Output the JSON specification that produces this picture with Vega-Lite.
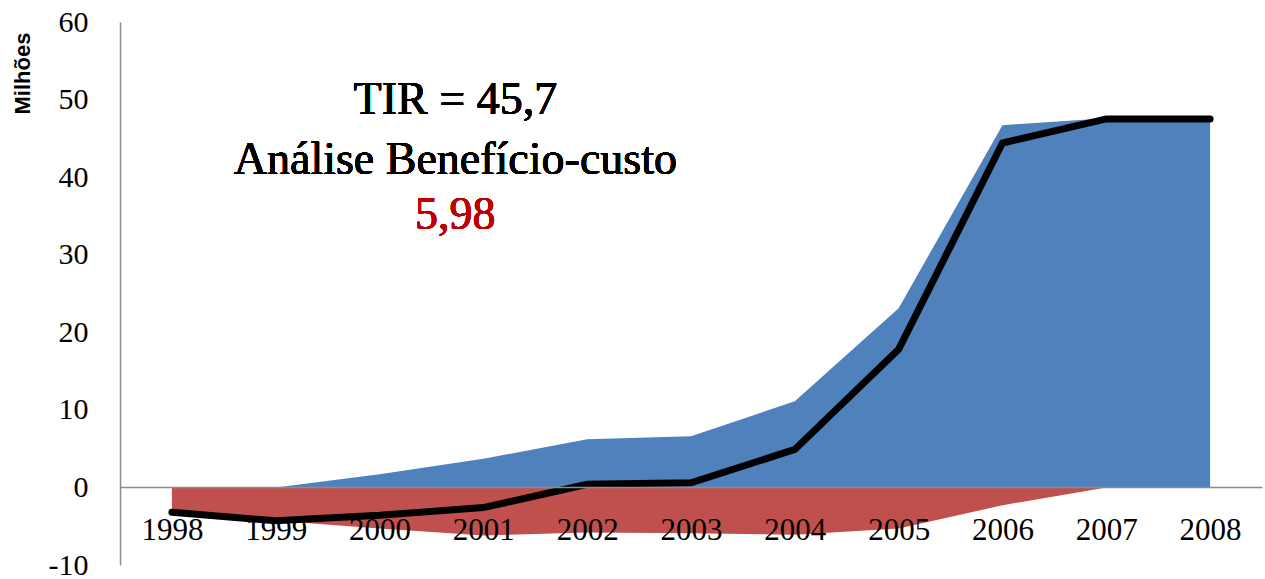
{
  "$schema": "https://vega.github.io/schema/vega-lite/v6.json",
  "autosize": "none",
  "width": 1142,
  "height": 543,
  "padding": {"left": 120, "top": 22, "right": 3, "bottom": 14},
  "background": "white",
  "config": {"view": {"stroke": null}},
  "data": {
    "values": [
      {"year": "1998", "benefit": 0, "cost": -3.2, "net": -3.2},
      {"year": "1999", "benefit": 0, "cost": -4.3, "net": -4.3},
      {"year": "2000", "benefit": 1.7, "cost": -5.3, "net": -3.6},
      {"year": "2001", "benefit": 3.7, "cost": -6.2, "net": -2.6},
      {"year": "2002", "benefit": 6.2, "cost": -5.8, "net": 0.4},
      {"year": "2003", "benefit": 6.6, "cost": -5.9, "net": 0.6},
      {"year": "2004", "benefit": 11.1, "cost": -6.1, "net": 4.9},
      {"year": "2005", "benefit": 23.1, "cost": -5.3, "net": 17.8},
      {"year": "2006", "benefit": 46.7, "cost": -2.3, "net": 44.4},
      {"year": "2007", "benefit": 47.6, "cost": 0, "net": 47.5},
      {"year": "2008", "benefit": 47.5, "cost": 0, "net": 47.5}
    ]
  },
  "encoding": {
    "x": {
      "field": "year",
      "type": "ordinal",
      "scale": {"type": "point", "padding": 0.5},
      "axis": {
        "title": null,
        "orient": "bottom",
        "offset": -78,
        "labelAngle": 0,
        "ticks": false,
        "tickSize": 0,
        "labelPadding": 43,
        "labelBaseline": "middle",
        "labelFont": "Times New Roman, Liberation Serif, serif",
        "labelFontSize": 31,
        "labelColor": "black",
        "domainColor": "#8c8c8c",
        "domainWidth": 1.5,
        "zindex": 1
      }
    }
  },
  "layer": [
    {
      "mark": {"type": "area", "color": "#4F81BD", "opacity": 1},
      "encoding": {
        "y": {
          "field": "benefit",
          "type": "quantitative",
          "scale": {"domain": [-10, 60], "nice": false, "zero": true},
          "axis": {
            "title": "Milhões",
            "values": [-10, 0, 10, 20, 30, 40, 50, 60],
            "labelExpr": "'' + datum.value",
            "grid": false,
            "ticks": false,
            "tickSize": 0,
            "labelPadding": 32,
            "labelFont": "Times New Roman, Liberation Serif, serif",
            "labelFontSize": 30,
            "labelColor": "black",
            "domainColor": "#8c8c8c",
            "domainWidth": 1.5,
            "titleFont": "Liberation Sans, Arial, sans-serif",
            "titleFontWeight": "bold",
            "titleFontSize": 22,
            "titleColor": "black",
            "titleAngle": -90,
            "titleX": -98,
            "titleY": 51,
            "titleAlign": "center",
            "titleBaseline": "middle"
          }
        }
      }
    },
    {
      "mark": {"type": "area", "color": "#C0504D", "opacity": 1},
      "encoding": {
        "y": {"field": "cost", "type": "quantitative"}
      }
    },
    {
      "mark": {"type": "line", "color": "black", "strokeWidth": 7, "strokeCap": "round", "strokeJoin": "miter"},
      "encoding": {
        "y": {"field": "net", "type": "quantitative"}
      }
    },
    {
      "mark": {"type": "text", "text": "TIR = 45,7", "font": "Times New Roman, Liberation Serif, serif", "fontSize": 46, "color": "black", "align": "center", "baseline": "middle", "dx": -28},
      "encoding": {
        "x": {"datum": "2001", "type": "ordinal"},
        "y": {"datum": 49.9, "type": "quantitative"}
      }
    },
    {
      "mark": {"type": "text", "text": "Análise Benefício-custo", "font": "Times New Roman, Liberation Serif, serif", "fontSize": 46, "color": "black", "align": "center", "baseline": "middle", "dx": -28},
      "encoding": {
        "x": {"datum": "2001", "type": "ordinal"},
        "y": {"datum": 42.2, "type": "quantitative"}
      }
    },
    {
      "mark": {"type": "text", "text": "5,98", "font": "Times New Roman, Liberation Serif, serif", "fontSize": 46, "color": "#C00000", "align": "center", "baseline": "middle", "dx": -28},
      "encoding": {
        "x": {"datum": "2001", "type": "ordinal"},
        "y": {"datum": 35.1, "type": "quantitative"}
      }
    }
  ]
}
